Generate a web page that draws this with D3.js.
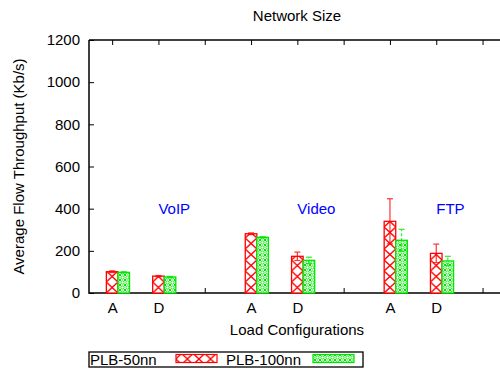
<!DOCTYPE html>
<html>
<head>
<meta charset="utf-8">
<script src="https://cdn.jsdelivr.net/npm/d3@7"></script>
<style>
  body { margin: 0; background: #fff; }
  text { font-family: "Liberation Sans", Arial, sans-serif; }
</style>
</head>
<body>
<svg width="500" height="371"></svg>
<script>
// data
const groups = ["VoIP", "Video", "FTP"];
const configs = ["A", "D"];
const tickLabels = ["A", "D", "", "A", "D", "", "A", "D", ""];
const yTicks = [0, 200, 400, 600, 800, 1000, 1200];
const seriesNames = ["PLB-50nn", "PLB-100nn"];
const plb50 = [101, 80, 281, 174, 340, 188];
const plb50Err = [4, 3, 4, 20, 107, 44];
const plb100 = [98, 76, 264, 155, 250, 152];
const plb100Err = [3, 3, 3, 15, 52, 22];

const svg = d3.select("svg");
const pLeft = 89, pRight = 505.7, pTop = 40, pBottom = 293;
const fs = 15;

const x = d3.scaleLinear().domain([0.5, 9.5]).range([pLeft, pRight]);
const y = d3.scaleLinear().domain([0, 1200]).range([pBottom, pTop]);

const red = "#ff0000", green = "#00e600";

// fill patterns
const defs = svg.append("defs");
const bw = x(1.125) - x(0.875);
const p1 = defs.append("pattern").attr("id", "pRed")
  .attr("patternUnits", "userSpaceOnUse").attr("width", bw).attr("height", 11)
  .attr("x", x(0.875)).attr("y", pBottom);
p1.append("rect").attr("width", bw).attr("height", 11).attr("fill", "#fff");
p1.append("path").attr("d", `M0,0L${bw},11M${bw},0L0,11`)
  .attr("stroke", red).attr("stroke-width", 1.3).attr("fill", "none");
const p2 = defs.append("pattern").attr("id", "pGreen")
  .attr("patternUnits", "userSpaceOnUse").attr("width", 5).attr("height", 5);
p2.append("rect").attr("width", 5).attr("height", 5).attr("fill", "#fff");
p2.append("circle").attr("cx", 2.5).attr("cy", 2.5).attr("r", 1.6)
  .attr("fill", "none").attr("stroke", green).attr("stroke-width", 0.9);
p2.append("path").attr("d", "M0,0h1v1h-1zM4,0h1v1h-1zM0,4h1v1h-1zM4,4h1v1h-1z").attr("fill", green);

// axes frame
const g = svg.append("g");
g.append("path").attr("d", `M${pLeft},${pTop}V${pBottom}H${pRight}M${pLeft},${pTop}H${pRight}`)
  .attr("fill", "none").attr("stroke", "#000").attr("stroke-width", 1.5);

const yAxis = d3.axisLeft(y).tickValues(yTicks).tickSize(-5).tickPadding(9).tickFormat(d3.format("d"));
g.append("g").attr("transform", `translate(${pLeft},0)`).call(yAxis)
  .call(a => a.select(".domain").remove())
  .call(a => a.selectAll("text").attr("font-size", fs).attr("fill", "#000"));

const pos = d3.range(1, 10);
g.append("g").attr("transform", `translate(0,${pTop})`)
  .call(d3.axisTop(x).tickValues(pos).tickSize(-5).tickFormat(""))
  .call(a => a.select(".domain").remove());

const xAxis = d3.axisBottom(x).tickValues(pos).tickSize(-5).tickPadding(9)
  .tickFormat((d, i) => tickLabels[i]);
g.append("g").attr("transform", `translate(0,${pBottom})`).call(xAxis)
  .call(a => a.select(".domain").remove())
  .call(a => a.selectAll("text").attr("font-size", fs).attr("fill", "#000"));

// bars
const rows = [];
groups.forEach((grp, gi) => configs.forEach((c, ci) => {
  const k = gi * 2 + ci;
  rows.push({ p: gi * 3 + ci + 1, v: plb50[k], e: plb50Err[k], s: 0 });
  rows.push({ p: gi * 3 + ci + 1, v: plb100[k], e: plb100Err[k], s: 1 });
}));

const bars = svg.append("g");
bars.selectAll("rect").data(rows).enter().append("rect")
  .attr("x", d => x(d.p - 0.125 + d.s * 0.25))
  .attr("width", bw)
  .attr("y", d => y(d.v))
  .attr("height", d => y(0) - y(d.v))
  .attr("fill", d => d.s ? "url(#pGreen)" : "url(#pRed)")
  .attr("stroke", d => d.s ? green : red)
  .attr("stroke-width", 1.3);

// error bars
const errs = svg.append("g");
rows.forEach(d => {
  const cx = x(d.p + d.s * 0.25);
  const col = d.s ? green : red;
  const e = errs.append("g").attr("stroke", col).attr("stroke-width", 1.2).attr("opacity", 0.8);
  e.append("line").attr("x1", cx).attr("x2", cx).attr("y1", y(d.v - d.e)).attr("y2", y(d.v + d.e))
    .attr("stroke-dasharray", d.s ? "3,2" : null);
  [d.v - d.e, d.v + d.e].forEach(v => e.append("line")
    .attr("x1", cx - 3).attr("x2", cx + 3).attr("y1", y(v)).attr("y2", y(v)));
});

// group labels
svg.append("g").selectAll("text").data(groups).enter().append("text")
  .attr("x", (d, i) => x(i * 3 + 2))
  .attr("y", y(400))
  .attr("dy", "0.35em")
  .attr("font-size", fs).attr("fill", "#0000ff")
  .text(d => d);

// titles
svg.append("text").attr("x", 297).attr("y", 21).attr("text-anchor", "middle")
  .attr("font-size", fs).text("Network Size");
svg.append("text").attr("x", 297).attr("y", 335).attr("text-anchor", "middle")
  .attr("font-size", fs).text("Load Configurations");
svg.append("text").attr("transform", `translate(24,${(pTop + pBottom) / 2}) rotate(-90)`)
  .attr("text-anchor", "middle").attr("font-size", fs).text("Average Flow Throughput (Kb/s)");

// legend
const lg = svg.append("g");
lg.append("rect").attr("x", 89).attr("y", 352).attr("width", 274).attr("height", 15)
  .attr("fill", "none").attr("stroke", "#000").attr("stroke-width", 1.3);
const items = [
  { x: 90, sx: 176, fill: "url(#pRed)", col: red },
  { x: 226, sx: 313, fill: "url(#pGreen)", col: green }
];
items.forEach((it, i) => {
  lg.append("text").attr("x", it.x).attr("y", 365).attr("font-size", fs).text(seriesNames[i]);
  lg.append("rect").attr("x", it.sx).attr("y", 354.5).attr("width", 41).attr("height", 8)
    .attr("fill", it.fill).attr("stroke", it.col).attr("stroke-width", 1.2);
});
</script>
</body>
</html>
